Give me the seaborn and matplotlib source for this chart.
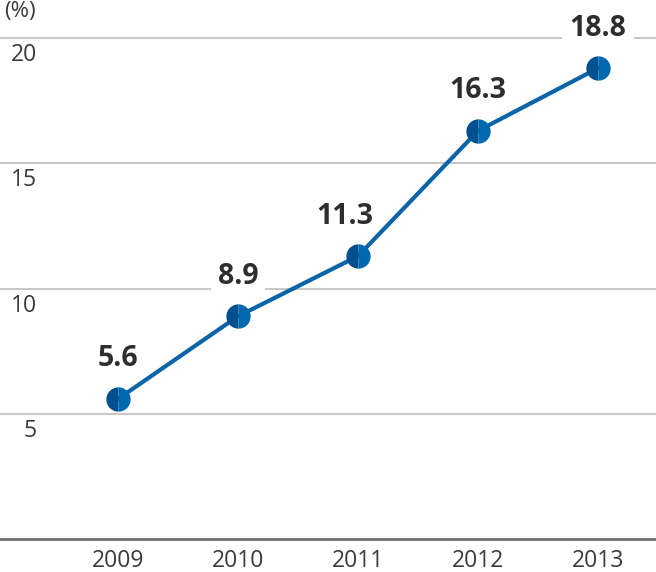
import numpy as np
import pandas as pd
import seaborn as sns
import matplotlib.pyplot as plt
from matplotlib.transforms import blended_transform_factory

# dati
anni = [2009, 2010, 2011, 2012, 2013]
valori = [5.6, 8.9, 11.3, 16.3, 18.8]
ytick_vals = [5, 10, 15, 20]
etichetta_unita = "(%)"
# spostamento orizzontale delle etichette (pixel)
shift_etichette = [0, 0, -13, 0, 0]

sns.set_theme(style="white")
plt.rcParams['font.family'] = ['Open Sans', 'DejaVu Sans']

df = pd.DataFrame({'anno': anni, 'valore': valori})

fig = plt.figure(figsize=(6.56, 5.72), dpi=100)
ax = fig.add_axes([0, 32.7 / 572, 1, 539.3 / 572])

sns.lineplot(data=df, x='anno', y='valore', ax=ax, color='#0a64a8', lw=3,
             marker='o', markersize=17.5, fillstyle='left',
             markerfacecolor='#00508f', markerfacecoloralt='#0068ae',
             markeredgewidth=0, zorder=5)

ax.set_xlim(2009 - 118 / 120, 2013 + 538 / 120 - 4)
ax.set_ylim(0, 21.52)

# griglia orizzontale
for v in ytick_vals:
    ax.axhline(v, color='#c8c8c8', lw=1.5, zorder=1)

ax.set_yticks([])
ax.set_xticks(anni)
ax.set_xticklabels([str(a) for a in anni], fontsize=16.5, color='#3a3a3a')
ax.tick_params(axis='x', length=0, pad=7)
ax.set_xlabel('')
ax.set_ylabel('')

for s in ['top', 'left', 'right']:
    ax.spines[s].set_visible(False)
ax.spines['bottom'].set_color('#6e6e6e')
ax.spines['bottom'].set_linewidth(2)

# etichette asse y sotto le linee
trans = blended_transform_factory(ax.transAxes, ax.transData)
for v in ytick_vals:
    ax.text(37 / 656, v - 0.68, str(v), transform=trans, ha='right', va='center',
            fontsize=16.5, color='#3a3a3a')

fig.text(20 / 656, 1 - 12 / 572, etichetta_unita, ha='center', va='center',
         fontsize=16, color='#3a3a3a')

# valori sopra i punti (box bianco sotto la linea, sopra la griglia)
for a, v, dx in zip(anni, valori, shift_etichette):
    ax.annotate(f"{v:.1f}", (a, v), xytext=(dx, 40), textcoords='offset pixels',
                ha='center', va='center', fontsize=20.5, fontweight='bold',
                color='#2e2e2e', zorder=3,
                bbox=dict(boxstyle='square,pad=0.25', fc='white', ec='none'))

plt.savefig("out.png", dpi=100)
